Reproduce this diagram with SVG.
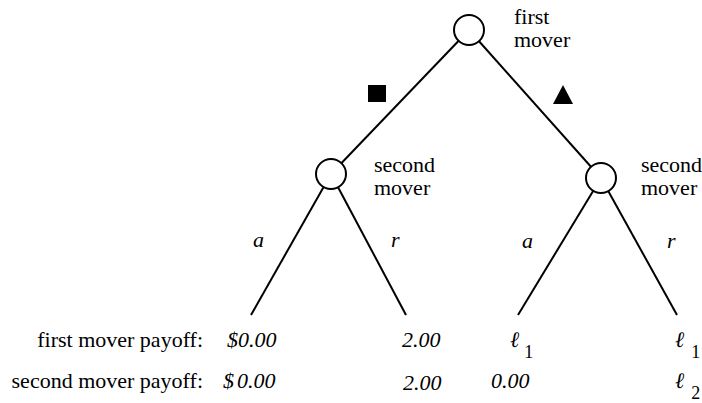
<svg xmlns="http://www.w3.org/2000/svg" width="702" height="403" viewBox="0 0 702 403">
<style>
.t{font-family:"Liberation Serif","Times New Roman",serif;font-size:22px;fill:#000}
.i{font-style:italic}
.s{font-size:18px;font-style:normal}
.e{stroke:#000;stroke-width:2;fill:none}
.n{stroke:#000;stroke-width:2;fill:#fff}
</style>
<rect width="702" height="403" fill="#fff"/>
<g id="connectors">
<line class="e" x1="469" y1="30" x2="331" y2="174"/>
<line class="e" x1="469" y1="30" x2="601" y2="178"/>
<line class="e" x1="331" y1="174" x2="251" y2="315"/>
<line class="e" x1="331" y1="174" x2="406" y2="315"/>
<line class="e" x1="601" y1="178" x2="518" y2="315"/>
<line class="e" x1="601" y1="178" x2="677" y2="315"/>
<rect x="368" y="85" width="18" height="17" fill="#000"/>
<polygon points="563,85 553,104 573,104" fill="#000"/>
<text class="t i" x="253" y="247">a</text>
<text class="t i" x="391" y="247">r</text>
<text class="t i" x="522" y="248">a</text>
<text class="t i" x="667" y="248">r</text>
</g>
<g id="first-mover">
<circle class="n" cx="469" cy="30" r="15"/>
<text class="t" x="514" y="24">first</text>
<text class="t" x="514" y="47">mover</text>
</g>
<g id="second-mover-left">
<circle class="n" cx="331" cy="174" r="15"/>
<text class="t" x="374" y="172">second</text>
<text class="t" x="374" y="195">mover</text>
</g>
<g id="second-mover-right">
<circle class="n" cx="601" cy="178" r="15"/>
<text class="t" x="641" y="172">second</text>
<text class="t" x="641" y="195">mover</text>
</g>
<g id="payoffs">
<text class="t" x="203" y="347" text-anchor="end">first mover payoff:</text>
<text class="t" x="203" y="388" text-anchor="end">second mover payoff:</text>
<text class="t i" x="227" y="347">$0.00</text>
<text class="t i" x="223" y="388">$<tspan dx="3">0.00</tspan></text>
<text class="t i" x="402" y="347">2.00</text>
<text class="t i" x="403" y="390">2.00</text>
<text class="t i" x="491" y="388">0.00</text>
<text class="t i" x="510" y="347">ℓ<tspan class="s" dx="5" dy="11">1</tspan></text>
<text class="t i" x="675" y="347">ℓ<tspan class="s" dx="7" dy="11">1</tspan></text>
<text class="t i" x="675" y="388">ℓ<tspan class="s" dx="7" dy="11">2</tspan></text>
</g>
</svg>
